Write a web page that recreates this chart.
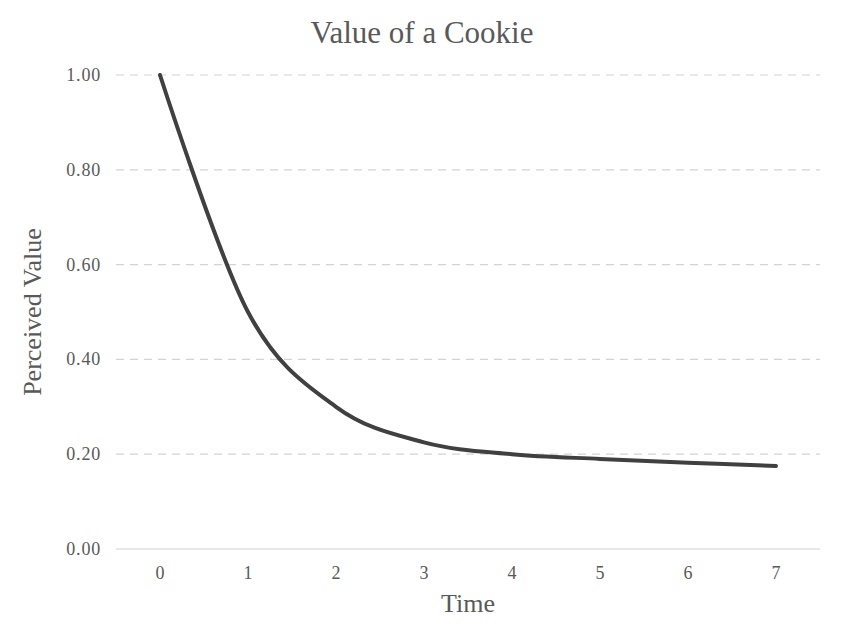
<!DOCTYPE html>
<html>
<head>
<meta charset="utf-8">
<script src="https://cdn.jsdelivr.net/npm/d3@7"></script>
<style>
  body { margin: 0; background: #fff; }
  svg text { font-family: "Liberation Serif", "DejaVu Serif", serif; fill: #595959; }
</style>
</head>
<body>
<div id="chart"></div>
<script>
const chartWidth = 844;
const chartHeight = 643;

const timeLabels = ["0", "1", "2", "3", "4", "5", "6", "7"];
const perceivedValues = [1.0, 0.5, 0.3, 0.225, 0.2, 0.19, 0.182, 0.175];
const valueTicks = [0, 0.2, 0.4, 0.6, 0.8, 1.0];

const margin = { top: 75, right: 24, bottom: 94, left: 116 };

const svg = d3
  .select("#chart")
  .append("svg")
  .attr("width", chartWidth)
  .attr("height", chartHeight);

const x = d3
  .scalePoint()
  .domain(timeLabels)
  .range([margin.left, chartWidth - margin.right])
  .padding(0.5);

const y = d3
  .scaleLinear()
  .domain([0, 1])
  .range([chartHeight - margin.bottom, margin.top]);

// gridlines
svg
  .append("g")
  .selectAll("line")
  .data(valueTicks)
  .join("line")
  .attr("x1", margin.left)
  .attr("x2", chartWidth - margin.right)
  .attr("y1", (d) => y(d))
  .attr("y2", (d) => y(d))
  .attr("stroke", (d) => (d === 0 ? "#d0d0d0" : "#d4d4d4"))
  .attr("stroke-width", 1.2)
  .attr("stroke-dasharray", (d) => (d === 0 ? null : "8,6"));

// y tick labels
svg
  .append("g")
  .selectAll("text")
  .data(valueTicks)
  .join("text")
  .attr("x", margin.left - 15)
  .attr("y", (d) => y(d))
  .attr("dy", "0.33em")
  .attr("text-anchor", "end")
  .attr("font-size", 18)
  .attr("letter-spacing", 0.8)
  .text((d) => d3.format(".2f")(d));

// x tick labels
svg
  .append("g")
  .selectAll("text")
  .data(timeLabels)
  .join("text")
  .attr("x", (d) => x(d))
  .attr("y", chartHeight - margin.bottom + 24)
  .attr("dy", "0.33em")
  .attr("text-anchor", "middle")
  .attr("font-size", 18)
  .text((d) => d);

const line = d3
  .line()
  .x((d, i) => x(timeLabels[i]))
  .y((d) => y(d))
  .curve(d3.curveCardinal.tension(0));

svg
  .append("path")
  .datum(perceivedValues)
  .attr("d", line)
  .attr("fill", "none")
  .attr("stroke", "#404040")
  .attr("stroke-width", 4)
  .attr("stroke-linecap", "round")
  .attr("stroke-linejoin", "round");

// titles
svg
  .append("text")
  .attr("x", chartWidth / 2)
  .attr("y", 43)
  .attr("text-anchor", "middle")
  .attr("font-size", 31)
  .text("Value of a Cookie");

svg
  .append("text")
  .attr("x", (margin.left + chartWidth - margin.right) / 2)
  .attr("y", 612)
  .attr("text-anchor", "middle")
  .attr("font-size", 26)
  .text("Time");

svg
  .append("text")
  .attr("transform", `translate(41,${(margin.top + chartHeight - margin.bottom) / 2}) rotate(-90)`)
  .attr("text-anchor", "middle")
  .attr("font-size", 26)
  .text("Perceived Value");
</script>
</body>
</html>
